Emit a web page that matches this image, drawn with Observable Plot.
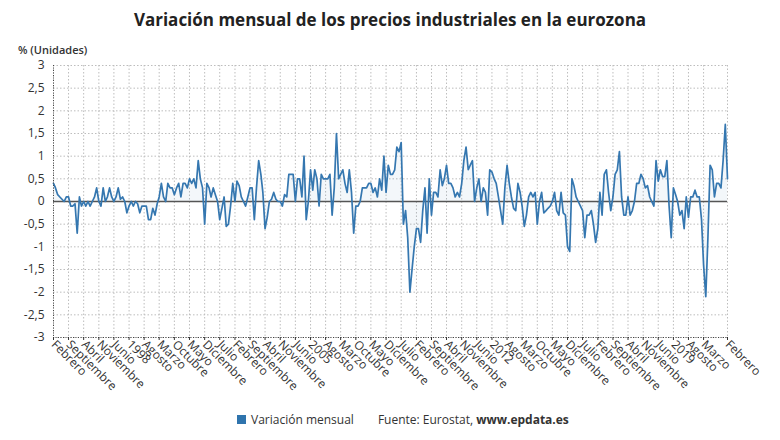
<!DOCTYPE html>
<html><head><meta charset="utf-8">
<script src="https://cdn.jsdelivr.net/npm/d3@7"></script>
<script src="https://cdn.jsdelivr.net/npm/@observablehq/plot@0.6"></script>
<style>
body{margin:0;background:#fff;font-family:"Open Sans",sans-serif;}
#wrap{position:relative;width:780px;height:440px;overflow:hidden;}
#title{position:absolute;left:0;top:8px;width:780px;text-align:center;font-weight:700;font-size:17px;color:#222;}
#unit{position:absolute;left:18px;top:42px;font-size:11px;font-weight:600;color:#333;z-index:2;}
#chart{position:absolute;left:0;top:40px;z-index:1;}
#legend{position:absolute;top:411px;left:237px;font-size:12px;color:#333;white-space:nowrap;}
#legend .sq{display:inline-block;width:9px;height:9px;background:#2f74ad;margin-right:5px;vertical-align:-0px;}
#legend .src{margin-left:24px;}
</style></head>
<body><div id="wrap">
<div id="title">Variación mensual de los precios industriales en la eurozona</div>
<div id="chart"></div>
<div id="unit">% (Unidades)</div>
<div id="legend"><span class="sq"></span>Variación mensual<span class="src">Fuente: Eurostat, <b>www.epdata.es</b></span></div>
</div>
<script>
// Monthly change (%), starting February 1995
const values1995_2001 = [
0.4,0.3,0.15,0.1,0.05,0.0,0.1,0.1,-0.1,-0.1,
-0.05,-0.7,0.1,-0.1,0.0,-0.1,0.0,-0.1,0.0,0.1,
0.3,0.0,-0.1,0.3,0.0,0.1,0.3,0.1,0.0,0.1,
0.3,0.05,0.1,0.0,-0.25,-0.1,0.0,-0.1,0.0,-0.05,
-0.25,-0.1,-0.1,-0.1,-0.4,-0.4,-0.15,-0.3,-0.05,0.1,
0.4,0.1,0.0,0.4,0.3,0.3,0.15,0.3,0.4,0.1,
0.4,0.4,0.3,0.5,0.4,0.5,0.3,0.9,0.5,0.3,
-0.5,0.4,0.3,0.1,0.3,0.15,0.0,-0.4,-0.15,0.1,
-0.55,-0.5,-0.1];
const values2002_2008 = [
0.4,0.0,0.45,0.35,0.1,0.0,-0.1,
0.1,0.3,0.3,-0.4,0.3,0.9,0.6,0.2,-0.6,-0.35,
0.0,0.05,0.2,0.05,0.0,0.0,-0.1,0.15,0.1,0.6,
0.6,0.6,0.0,0.5,0.5,0.1,1.0,-0.4,0.0,0.7,
0.25,0.7,0.5,-0.1,0.6,0.5,0.5,0.5,0.6,-0.3,
0.3,1.5,0.5,0.6,0.7,0.4,0.2,0.7,0.2,-0.7,
-0.1,-0.1,0.0,0.3,0.3,0.3,0.4,0.4,0.2,0.3,
0.1,0.5,0.25,1.0,0.2,0.8,0.6,0.6,0.7,1.2,
1.1,1.3,-0.5,-0.2,-0.8,-2.0,-1.5];
const values2009_2014 = [
-1.0,-0.6,-0.6,
-0.9,-0.2,0.3,-0.7,0.5,-0.3,0.2,0.2,0.1,0.7,
0.35,0.5,0.8,0.4,0.4,0.3,0.1,0.2,0.1,0.4,
0.9,1.2,0.7,0.8,0.9,0.0,0.3,0.5,0.0,0.3,
0.2,-0.3,0.7,0.65,0.5,0.4,0.1,-0.2,-0.5,0.3,
0.8,0.4,0.1,-0.15,-0.2,0.4,0.2,-0.1,-0.55,-0.3,
0.1,0.2,0.1,0.2,-0.5,0.0,0.2,-0.25,-0.2,-0.15,
-0.1,0.0,0.2,-0.2,-0.3,0.2,-0.25,-0.3,-1.0];
const values2015_2021 = [
-1.1,
0.5,0.35,0.1,0.0,-0.1,-0.2,-0.8,-0.3,-0.3,-0.2,
-0.5,-0.9,-0.6,0.2,-0.3,0.6,0.7,0.2,-0.2,0.1,
0.6,0.7,1.1,0.1,-0.3,-0.3,0.1,-0.3,-0.2,0.0,
0.4,0.4,0.6,0.5,0.3,0.35,0.1,0.0,-0.1,0.9,
0.45,0.7,0.55,0.55,0.9,-0.1,-0.8,0.3,0.15,0.0,
-0.3,-0.2,-0.6,0.1,-0.35,0.1,0.1,0.25,0.1,0.1,
-0.4,-1.4,-2.1,-0.8,0.8,0.7,0.1,0.4,0.4,0.3,
0.9,1.7,0.5];

// x-axis ticks: month offsets from Feb 1995 and their labels
const tickOffsets = [0,7,14,21,28,35,42,49,56,63,70,77,84,91,98,105,112,119,126,133,140,147,154,161,168,175,182,189,196,203,210,217,224,231,238,245,252,259,266,273,280,287,294,301,312];
const tickLabels = ["Febrero","Septiembre","Abril","Noviembre","Junio","1998","Agosto","Marzo","Octubre","Mayo","Diciembre","Julio",
"Febrero","Septiembre","Abril","Noviembre","Junio","2005","Agosto","Marzo","Octubre","Mayo","Diciembre","Julio",
"Febrero","Septiembre","Abril","Noviembre","Junio","2012","Agosto","Marzo","Octubre","Mayo","Diciembre","Julio",
"Febrero","Septiembre","Abril","Noviembre","Junio","2019","Agosto","Marzo","Febrero"];
const yTicks = [-3,-2.5,-2,-1.5,-1,-0.5,0,0.5,1,1.5,2,2.5,3];

const monthDate = i => new Date(Date.UTC(1995, 1 + i, 1));
const values = [...values1995_2001, ...values2002_2008, ...values2009_2014, ...values2015_2021];
const data = values.map((v, i) => ({date: monthDate(i), value: v}));
const tickDates = tickOffsets.map(monthDate);
const labelByTime = new Map(tickDates.map((d, i) => [+d, tickLabels[i]]));
const x0 = data[0].date, x1 = data[data.length - 1].date;

const grid = {stroke: "#bdbdbd", strokeOpacity: 1, strokeDasharray: "1.5,2"};
const chart = Plot.plot({
  width: 780, height: 360,
  marginTop: 25, marginLeft: 53, marginRight: 53, marginBottom: 63,
  style: {fontFamily: "Open Sans, sans-serif", fontSize: "12px", color: "#333", background: "transparent"},
  x: {type: "utc", domain: [x0, x1]},
  y: {domain: [-3, 3]},
  marks: [
    Plot.gridY(yTicks, grid),
    Plot.gridX(tickDates, grid),
    Plot.areaY(data, {x: "date", y1: 0, y2: "value", fill: "#2f74ad", fillOpacity: 0.06}),
    Plot.ruleY([0], {stroke: "#555", strokeWidth: 1.6}),
    Plot.lineY(data, {x: "date", y: "value", stroke: "#3577b0", strokeWidth: 1.7}),
    Plot.ruleX([x0], {stroke: "#444", strokeDasharray: "1,1.5"}),
    Plot.ruleY([-3], {stroke: "#444", strokeDasharray: "1,1.5"}),
    Plot.axisY(yTicks, {tickSize: 0, tickPadding: 9, label: null, fontSize: 12,
      tickFormat: d => String(d).replace(".", ",")}),
    Plot.axisX(tickDates, {tickSize: 3, tickPadding: 2, label: null, tickRotate: 45, fontSize: 12,
      tickFormat: d => labelByTime.get(+d)})
  ]
});
document.getElementById("chart").appendChild(chart);
</script>
</body></html>
